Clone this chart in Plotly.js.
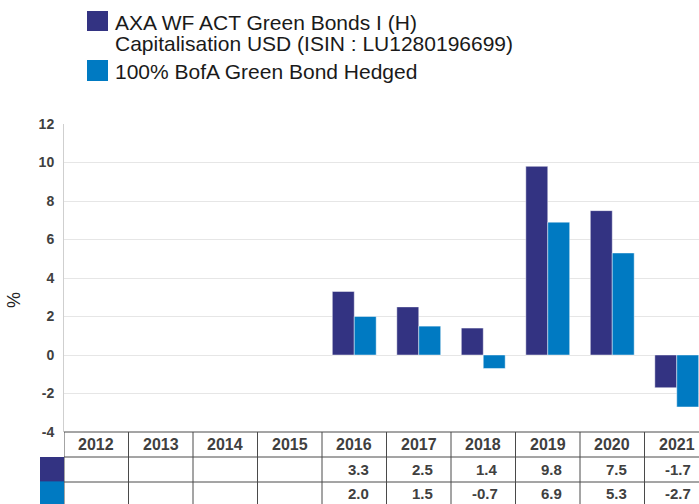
<!DOCTYPE html>
<html>
<head>
<meta charset="utf-8">
<script src="https://cdn.plot.ly/plotly-3.0.1.min.js"></script>
<style>
html,body{margin:0;padding:0;overflow:hidden;background:#fff;width:699px;height:504px;}
#chart{width:709px;height:504px;}
</style>
</head>
<body>
<div id="chart"></div>
<script>
// ---- data ----
const years = ['2012','2013','2014','2015','2016','2017','2018','2019','2020','2021'];
const fundValues = [null, null, null, null, 3.3, 2.5, 1.4, 9.8, 7.5, -1.7];
const benchValues = [null, null, null, null, 2.0, 1.5, -0.7, 6.9, 5.3, -2.7];
const fundNameLines = ['AXA WF ACT Green Bonds I (H)', 'Capitalisation USD (ISIN : LU1280196699)'];
const benchName = '100% BofA Green Bond Hedged';
const yTicks = [-4, -2, 0, 2, 4, 6, 8, 10, 12];
const yLabel = '%';

// ---- styles ----
const darkColor = '#333382';
const lightColor = '#007ac2';
const textColor = '#404040';
const W = 709, H = 504;
const L = 64, R = 0, T = 124, B = 72;
const pw = W - L - R, ph = H - T - B;
const px2x = p => (p - L) / pw;
const py2y = p => (H - B - p) / ph;

const traces = [
  {type:'bar', x: years, y: fundValues, name: fundNameLines.join(' '),
   marker:{color: darkColor, line:{color:'rgba(255,255,255,0.45)', width:1}}, hoverinfo:'none'},
  {type:'bar', x: years, y: benchValues, name: benchName,
   marker:{color: lightColor, line:{color:'rgba(255,255,255,0.45)', width:1}}, hoverinfo:'none'}
];

const shapes = [];
const annotations = [];
const border = '#4a4a4a';
const rowY = [py2y(432), py2y(457), py2y(482), py2y(504)];

// vertical table lines
for (let i = 0; i <= years.length; i++) {
  shapes.push({type:'line', xref:'x', yref:'paper', x0:i-0.5, x1:i-0.5, y0:rowY[0], y1:rowY[3],
    line:{color:border, width:1}});
}
// horizontal table lines
for (let r = 0; r < 3; r++) {
  shapes.push({type:'line', xref:'paper', yref:'paper', x0:0, x1:1, y0:rowY[r], y1:rowY[r],
    line:{color:border, width:1}});
}
// series colour cells
shapes.push({type:'rect', xref:'paper', yref:'paper', x0:px2x(40), x1:0, y0:rowY[2], y1:rowY[1],
  fillcolor:darkColor, line:{width:0}});
shapes.push({type:'rect', xref:'paper', yref:'paper', x0:px2x(40), x1:0, y0:rowY[3], y1:rowY[2]+0.002,
  fillcolor:lightColor, line:{width:0}});

const hdrFont = {family:'Liberation Sans, Arial, sans-serif', size:16, color:textColor, weight:'bold'};
const tblFont = {family:'Liberation Sans, Arial, sans-serif', size:15, color:textColor, weight:'bold'};
years.forEach((yr, i) => {
  annotations.push({xref:'x', yref:'paper', x:i, y:(rowY[0]+rowY[1])/2, text:yr, showarrow:false,
    xanchor:'center', yanchor:'middle', font:hdrFont});
  if (fundValues[i] !== null) {
    annotations.push({xref:'x', yref:'paper', x:i+0.5, xshift:-16, y:(rowY[1]+rowY[2])/2,
      text:fundValues[i].toFixed(1), showarrow:false, xanchor:'right', yanchor:'middle', font:tblFont});
  }
  if (benchValues[i] !== null) {
    annotations.push({xref:'x', yref:'paper', x:i+0.5, xshift:-16, y:(rowY[2]+rowY[3])/2,
      text:benchValues[i].toFixed(1), showarrow:false, xanchor:'right', yanchor:'middle', font:tblFont});
  }
});

// legend
shapes.push({type:'rect', xref:'paper', yref:'paper', x0:px2x(87), x1:px2x(108), y0:py2y(31), y1:py2y(11),
  fillcolor:darkColor, line:{width:0}});
shapes.push({type:'rect', xref:'paper', yref:'paper', x0:px2x(87), x1:px2x(108), y0:py2y(81), y1:py2y(60),
  fillcolor:lightColor, line:{width:0}});
const legFont = {family:'Liberation Sans, Arial, sans-serif', size:21, color:'#1a1a1a'};
const legLines = [[fundNameLines[0], 23], [fundNameLines[1], 43], [benchName, 71]];
legLines.forEach(([t, cy]) => {
  annotations.push({xref:'paper', yref:'paper', x:px2x(113), y:py2y(cy), text:t, showarrow:false,
    xanchor:'left', yanchor:'middle', font:legFont});
});

// y-axis title
annotations.push({xref:'paper', yref:'paper', x:px2x(14), y:py2y(300), text:yLabel, showarrow:false,
  textangle:-90, xanchor:'center', yanchor:'middle', font:{family:'Liberation Sans, Arial, sans-serif', size:18, color:'#222'}});

const layout = {
  width:W, height:H,
  margin:{l:L, r:R, t:T, b:B, pad:0},
  paper_bgcolor:'#fff', plot_bgcolor:'#fff',
  showlegend:false,
  barmode:'group', bargap:0.32, bargroupgap:0,
  xaxis:{type:'category', showticklabels:false, showgrid:false, zeroline:false, showline:false,
    ticks:'', range:[-0.5, years.length-0.5], fixedrange:true},
  yaxis:{range:[-4,12], tickvals:yTicks, ticktext:yTicks.map(String), showgrid:true, gridcolor:'#e6e6e6',
    gridwidth:1, zeroline:false, showline:true, linecolor:'#cfcfcf', linewidth:1, ticks:'',
    ticklabelstandoff:6,
    tickfont:{family:'Liberation Sans, Arial, sans-serif', size:14, color:textColor, weight:'bold'}, fixedrange:true},
  shapes, annotations
};

Plotly.newPlot('chart', traces, layout, {staticPlot:true, displayModeBar:false});
</script>
</body>
</html>
